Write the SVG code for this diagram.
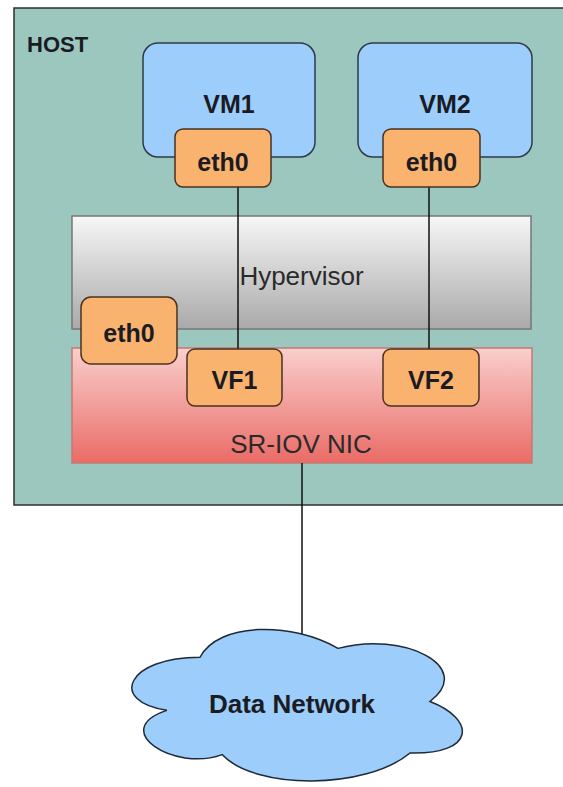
<svg xmlns="http://www.w3.org/2000/svg" width="563" height="787" viewBox="0 0 563 787">
  <defs>
    <linearGradient id="gHyp" x1="0" y1="0" x2="0" y2="1">
      <stop offset="0" stop-color="#f7f7f7"/>
      <stop offset="1" stop-color="#a9a9a9"/>
    </linearGradient>
    <linearGradient id="gNic" x1="0" y1="0" x2="0" y2="1">
      <stop offset="0" stop-color="#f9cfcd"/>
      <stop offset="1" stop-color="#ea6b66"/>
    </linearGradient>
    <style>
      .b { font-family: "Liberation Sans", Arial, Helvetica, sans-serif; font-weight: bold; font-size: 25px; fill: #1b1b24; text-anchor: middle; }
      .n { font-family: "Liberation Sans", Arial, Helvetica, sans-serif; font-size: 26px; fill: #2a2a2a; text-anchor: middle; }
      .vm { fill: #9ccdfb; stroke: #2f3a48; stroke-width: 1.5; }
      .port { fill: #f9b36e; stroke: #4a3220; stroke-width: 1.5; }
      .wire { stroke: #111; stroke-width: 1.5; fill: none; }
    </style>
  </defs>
  <rect width="563" height="787" fill="#ffffff"/>

  <g id="host">
    <rect x="14" y="8" width="562" height="497" fill="#9bc7bf" stroke="#2e2e2e" stroke-width="1.5"/>
    <text x="27" y="52" class="b" style="font-size:22px;text-anchor:start">HOST</text>
  </g>

  <g id="hypervisor">
    <rect x="72" y="216" width="459" height="113" fill="url(#gHyp)" stroke="#777" stroke-width="1.5"/>
    <text x="301.5" y="285" class="n">Hypervisor</text>
  </g>

  <g id="sriov-nic">
    <rect x="72" y="348" width="460" height="115" fill="url(#gNic)" stroke="#c27a76" stroke-width="1.5"/>
    <text x="301" y="453" class="n">SR-IOV NIC</text>
  </g>

  <g id="vm1">
    <rect x="143" y="43" width="172" height="114" rx="15" class="vm"/>
    <text x="229" y="113" class="b">VM1</text>
  </g>

  <g id="vm2">
    <rect x="358" y="43" width="174" height="114" rx="15" class="vm"/>
    <text x="445" y="113" class="b">VM2</text>
  </g>

  <g id="connectors">
    <line x1="238" y1="187" x2="238" y2="349" class="wire"/>
    <line x1="429" y1="187" x2="429" y2="349" class="wire"/>
    <line x1="302" y1="463" x2="302" y2="634" class="wire"/>
  </g>

  <g id="vm1-eth0">
    <rect x="175" y="129" width="96" height="58" rx="8" class="port"/>
    <text x="223" y="171" class="b">eth0</text>
  </g>

  <g id="vm2-eth0">
    <rect x="383" y="129" width="97" height="58" rx="8" class="port"/>
    <text x="431.5" y="171" class="b">eth0</text>
  </g>

  <g id="host-eth0">
    <rect x="81" y="297" width="96" height="67" rx="10" class="port"/>
    <text x="129" y="342" class="b">eth0</text>
  </g>

  <g id="vf1">
    <rect x="187" y="349" width="95" height="57" rx="8" class="port"/>
    <text x="234.5" y="389" class="b">VF1</text>
  </g>

  <g id="vf2">
    <rect x="383" y="349" width="96" height="57" rx="8" class="port"/>
    <text x="431" y="389" class="b">VF2</text>
  </g>

  <g id="data-network">
    <path d="M200,657.25 C126.4,657.25 108,701.5 166.88,710.35 C108,729.82 174.24,772.3 222.08,754.6 C255.2,790 365.6,790 410,753 C476,754.6 476,719.2 430,701.5 C476,666.1 402.4,630.7 338,648.4 C292,621.85 218.4,621.85 200,657.25 Z" fill="#9ccdfb" stroke="#1f2a36" stroke-width="1.5"/>
    <text x="292" y="713" class="b" style="font-size:26px">Data Network</text>
  </g>
</svg>
